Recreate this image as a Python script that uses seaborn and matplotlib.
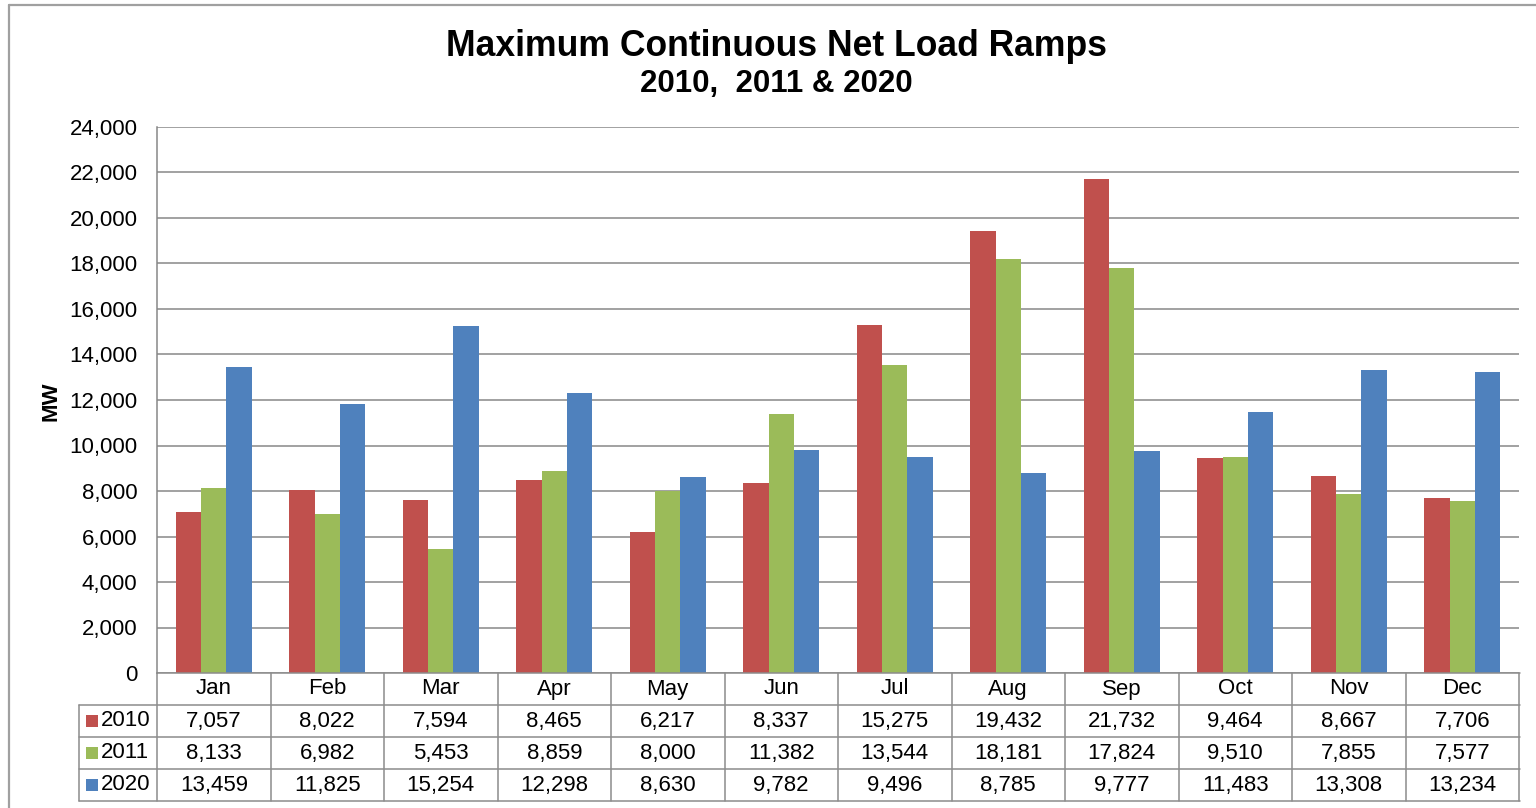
import matplotlib
matplotlib.use("Agg")
import matplotlib.pyplot as plt
from matplotlib.lines import Line2D
from matplotlib.patches import Rectangle
from matplotlib.ticker import FuncFormatter
import pandas as pd
import seaborn as sns

months = ["Jan", "Feb", "Mar", "Apr", "May", "Jun",
          "Jul", "Aug", "Sep", "Oct", "Nov", "Dec"]
years = ["2010", "2011", "2020"]
ramps_2010 = [7057, 8022, 7594, 8465, 6217, 8337, 15275, 19432, 21732, 9464, 8667, 7706]
ramps_2011 = [8133, 6982, 5453, 8859, 8000, 11382, 13544, 18181, 17824, 9510, 7855, 7577]
ramps_2020 = [13459, 11825, 15254, 12298, 8630, 9782, 9496, 8785, 9777, 11483, 13308, 13234]
colors = ["#C0504D", "#9BBB59", "#4F81BD"]

series = [ramps_2010, ramps_2011, ramps_2020]
df = pd.DataFrame({
    "Month": months * len(years),
    "Year": [y for y in years for _ in months],
    "MW": [v for s in series for v in s],
})

sns.set_theme(style="white")
plt.rcParams["font.family"] = ["Liberation Sans", "DejaVu Sans"]
plt.rcParams["text.color"] = "black"
plt.rcParams["axes.labelcolor"] = "black"
plt.rcParams["ytick.color"] = "black"

W, H, DPI = 1536, 808, 100
fig = plt.figure(figsize=(W / DPI, H / DPI), dpi=DPI)

# plot area in pixel coordinates
px_left, px_right, px_top, px_bottom = 157, 1519, 127, 673
ax = fig.add_axes([px_left / W, 1 - px_bottom / H,
                   (px_right - px_left) / W, (px_bottom - px_top) / H])

sns.barplot(data=df, x="Month", y="MW", hue="Year", hue_order=years,
            order=months, palette=colors, width=0.67, linewidth=0,
            saturation=1, ax=ax, legend=False)

FS = 16
ax.set_xlim(-0.5, len(months) - 0.5)
ax.set_ylim(0, 24000)
ax.set_yticks(range(0, 24001, 2000))
ax.yaxis.set_major_formatter(FuncFormatter(lambda v, p: f"{int(v):,}"))
ax.tick_params(axis="y", length=0, pad=14, labelsize=FS, labelcolor="black")
ax.set_xticks([])
ax.set_xlabel("")
ax.set_ylabel("")
ax.yaxis.grid(True, color="#878787", linewidth=1.1)
ax.set_axisbelow(True)
for side in ["top", "right", "bottom"]:
    ax.spines[side].set_visible(False)
ax.spines["left"].set_color("#878787")
ax.spines["left"].set_linewidth(1.1)

fig.text(51 / W, 1 - 401 / H, "MW", rotation=90, ha="center", va="center",
         fontsize=16, fontweight="bold", color="black")

# data table beneath the plot area
trans = ax.get_xaxis_transform()
plot_h = px_bottom - px_top
cat_w = (px_right - px_left) / len(months)
row_h = 32 / plot_h
x_lo, x_hi = -0.5, len(months) - 0.5
x_lab = -0.5 - 78 / cat_w
grid_c = "#8C8C8C"
lw = 1.1

def hline(x0, x1, y):
    ax.add_line(Line2D([x0, x1], [y, y], transform=trans, color=grid_c,
                       lw=lw, clip_on=False))

def vline(x, y0, y1):
    ax.add_line(Line2D([x, x], [y0, y1], transform=trans, color=grid_c,
                       lw=lw, clip_on=False))

n_rows = len(years) + 1
hline(x_lo, x_hi + 0.005, 0)
for r in range(1, n_rows + 1):
    hline(x_lab, x_hi + 0.005, -r * row_h)
for k in range(len(months) + 1):
    vline(k - 0.5, 0, -n_rows * row_h)
vline(x_lab, -row_h, -n_rows * row_h)

for i, m in enumerate(months):
    ax.text(i, -0.5 * row_h, m, transform=trans, ha="center", va="center",
            fontsize=FS, color="black")

for r, (yr, vals, c) in enumerate(zip(years, series, colors), start=1):
    yc = -(r + 0.5) * row_h
    sq_w = 12 / cat_w
    sq_h = 12 / plot_h
    ax.add_patch(Rectangle((-0.5 - 71 / cat_w, yc - sq_h / 2), sq_w, sq_h,
                           transform=trans, facecolor=c, edgecolor="none",
                           clip_on=False))
    ax.text(-0.5 - 56 / cat_w, yc, yr, transform=trans, ha="left",
            va="center", fontsize=FS, color="black")
    for i, v in enumerate(vals):
        ax.text(i, yc, f"{v:,}", transform=trans, ha="center", va="center",
                fontsize=FS, color="black")

# chart titles
fig.text(776 / W, 1 - 46 / H, "Maximum Continuous Net Load Ramps",
         ha="center", va="center", fontsize=25.6, fontweight="bold",
         color="black")
fig.text(776 / W, 1 - 84 / H, "2010,  2011 & 2020",
         ha="center", va="center", fontsize=22.5, fontweight="bold",
         color="black")

# outer chart frame
fig.add_artist(Line2D([9 / W, 1.01], [1 - 5 / H, 1 - 5 / H],
                      transform=fig.transFigure, color="#A0A0A0", lw=1.6))
fig.add_artist(Line2D([9 / W, 9 / W], [1 - 5 / H, -0.01],
                      transform=fig.transFigure, color="#A0A0A0", lw=1.6))

fig.savefig("out.png", dpi=DPI)
